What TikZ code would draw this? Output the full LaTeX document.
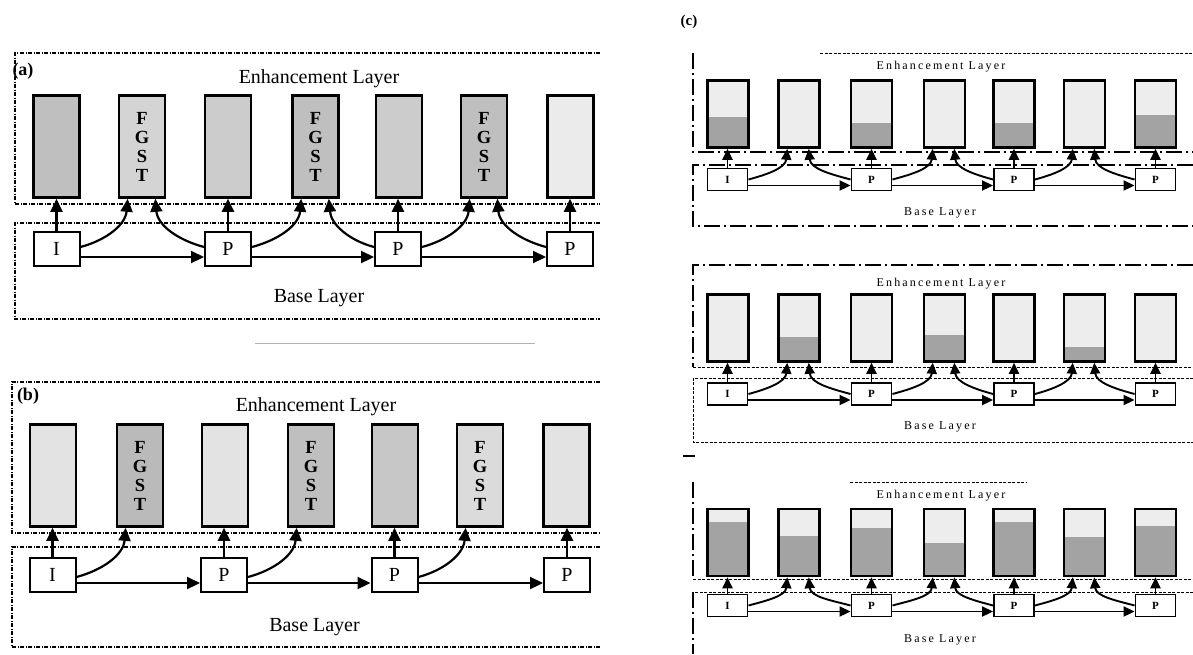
\documentclass[tikz,border=0pt]{standalone}
\usepackage{fontspec}
\setmainfont{Liberation Serif}
\newfontfamily\spacedfont[LetterSpace=18]{Liberation Serif}
\usetikzlibrary{arrows.meta,calc}
\newcommand\fgst{F\\G\\S\\T}
\begin{document}
\begin{tikzpicture}[x=1pt,y=-1pt,
  arect/.style={draw, line width=2.6pt, minimum width=46pt, minimum height=102pt, inner sep=0pt, align=center, font=\fontsize{18.5}{19}\selectfont\bfseries},
  abox/.style={draw, line width=2pt, fill=white, minimum width=46pt, minimum height=34pt, inner sep=0pt, font=\fontsize{20}{22}\selectfont},
  cshade/.style={path picture={\fill[black!36] (path picture bounding box.south west) rectangle ($(path picture bounding box.south east)!#1!(path picture bounding box.north east)$);}},
  crect/.style={draw, line width=2.5pt, fill=black!7, minimum width=41pt, minimum height=67pt, inner sep=0pt, cshade=#1},
  cbox/.style={draw, line width=1.9pt, fill=white, minimum width=40pt, minimum height=22pt, inner sep=0pt, font=\fontsize{11}{12}\selectfont\bfseries},
  arr/.style={line width=2.2pt, -{Triangle[length=13pt,width=12pt]}},
  carr/.style={line width=1.9pt, -{Triangle[length=11pt,width=10pt]}},
  aframe/.style={line width=1.2pt, dash pattern=on 4pt off 1.5pt on 1pt off 1.5pt},
  cthick/.style={line width=1.6pt, dash pattern=on 16pt off 4pt on 2pt off 4pt},
  cthin/.style={line width=0.8pt, dash pattern=on 3pt off 1.5pt},
  ltext/.style={font=\fontsize{20}{22}\selectfont, inner sep=0pt},
  ctext/.style={font=\fontsize{12}{14}\selectfont\spacedfont, inner sep=0pt},
  plabel/.style={font=\fontsize{18}{20}\selectfont\bfseries, inner sep=0pt}
]
\useasboundingbox (0,0) rectangle (1193,654);

% ---------------- panel (a) ----------------
\draw[aframe] (600,53) -- (15,53) -- (15,204) -- (600,204);
\draw[aframe] (600,223) -- (15,223) -- (15,319) -- (600,319);
\node[plabel] (la) at (23,71) {(a)};
\node[ltext] (aEL) at (319,79) {Enhancement Layer};
\node[ltext] (aBL) at (319,298) {Base Layer};
\foreach \x/\f/\t [count=\i] in {56.5/25/{}, 142/17/\fgst, 228/20/{}, 315.5/25/\fgst, 399/20/{}, 484/25/\fgst, 570.5/8/{}}
  \node[arect, fill=black!\f] (a\i) at (\x,146.5) {\t};
\foreach \x/\t [count=\i] in {56.5/I, 228/P, 398/P, 570/P}
  \node[abox] (aB\i) at (\x,248.5) {\t};
\foreach \i in {1,...,4}{
  \pgfmathtruncatemacro\j{2*\i-1}
  \draw[arr] (aB\i.north) -- (aB\i.north |- a\j.south);
}
\foreach \i in {1,2,3}{
  \pgfmathtruncatemacro\j{2*\i}
  \pgfmathtruncatemacro\k{\i+1}
  \draw[arr] ([yshift=1.5pt]aB\i.east) to[out=15,in=-95] ([xshift=10pt]a\j.south west);
  \draw[arr] ([yshift=1.5pt]aB\k.west) to[out=165,in=-85] ([xshift=-11pt]a\j.south east);
  \draw[arr] ([yshift=-8.5pt]aB\i.east) -- ([yshift=-8.5pt]aB\k.west);
}

\draw[black!30, line width=0.8pt] (255,343) -- (535,343);

% ---------------- panel (b) ----------------
\draw[aframe] (600,382) -- (12,382) -- (12,533) -- (600,533);
\draw[aframe] (600,547) -- (12,547) -- (12,647) -- (600,647);
\node[plabel] (lb) at (28,396) {(b)};
\node[ltext] (bEL) at (316,407) {Enhancement Layer};
\node[ltext] (bBL) at (314.5,627) {Base Layer};
\foreach \x/\f/\t [count=\i] in {53/11/{}, 140/27/\fgst, 225/11/{}, 311/25/\fgst, 395/22/{}, 480/14/\fgst, 566.5/11/{}}
  \node[arect, fill=black!\f] (b\i) at (\x,475.5) {\t};
\foreach \x/\t [count=\i] in {52.5/I, 224/P, 394.5/P, 567/P}
  \node[abox] (bB\i) at (\x,574.5) {\t};
\foreach \i in {1,...,4}{
  \pgfmathtruncatemacro\j{2*\i-1}
  \draw[arr] (bB\i.north) -- (bB\i.north |- b\j.south);
}
\foreach \i in {1,2,3}{
  \pgfmathtruncatemacro\j{2*\i}
  \pgfmathtruncatemacro\k{\i+1}
  \draw[arr] ([yshift=-2.5pt]bB\i.east) to[out=15,in=-95] ([xshift=10pt]b\j.south west);
  \draw[arr] ([yshift=-8.5pt]bB\i.east) -- ([yshift=-8.5pt]bB\k.west);
}

% ---------------- panel (c) ----------------
\node[plabel, font=\fontsize{15}{17}\selectfont\bfseries] (lc) at (689,22) {(c)};

% row 1 frames
\draw[cthin] (820,53) -- (1193,53);
\draw[cthick] (693,53) -- (693,152) -- (1193,152);
\draw[cthick] (1193,165) -- (693,165) -- (693,226) -- (1193,226);
% row 2 frames
\draw[cthick] (1193,265) -- (693,265) -- (693,367);
\draw[cthin] (693,367) -- (1193,367);
\draw[cthin] (1193,378) -- (693,378) -- (693,442) -- (1193,442);
\draw[line width=1.5pt] (683,456) -- (695,456);
% row 3 frames
\draw[cthin] (850,482) -- (1027,482);
\draw[cthick] (693,482) -- (693,579);
\draw[cthin] (693,579) -- (1193,579);
\draw[cthin] (1193,592) -- (693,592);
\draw[cthick] (693,592) -- (693,654);

% row texts
\node[ctext] (c1EL) at (941,67) {Enhancement Layer};
\node[ctext] (c1BL) at (940,213) {Base Layer};
\node[ctext] (c2EL) at (941,284) {Enhancement Layer};
\node[ctext] (c2BL) at (940,427) {Base Layer};
\node[ctext] (c3EL) at (941,496) {Enhancement Layer};
\node[ctext] (c3BL) at (940,640) {Base Layer};

% row rects
\foreach \x/\f [count=\i] in {728/0.45, 799/0, 871.5/0.37, 944.5/0, 1014/0.37, 1084.5/0, 1155.5/0.49}
  \node[crect=\f] (c1R\i) at (\x,114) {};
\foreach \x/\f [count=\i] in {728/0, 799/0.36, 871.5/0, 944.5/0.40, 1014/0, 1084.5/0.22, 1155.5/0}
  \node[crect=\f] (c2R\i) at (\x,328) {};
\foreach \x/\f [count=\i] in {728/0.80, 799/0.59, 871.5/0.71, 944.5/0.49, 1014/0.80, 1084.5/0.58, 1155.5/0.74}
  \node[crect=\f] (c3R\i) at (\x,542.5) {};

% row boxes and connectors
\foreach \rw/\by in {1/179.5, 2/394, 3/605.5}{
  \foreach \x/\t [count=\i] in {727.5/I, 871.5/P, 1014/P, 1155.5/P}
    \node[cbox] (c\rw B\i) at (\x,\by) {\t};
  \foreach \i in {1,...,4}{
    \pgfmathtruncatemacro\j{2*\i-1}
    \draw[carr] (c\rw B\i.north) -- (c\rw B\i.north |- c\rw R\j.south);
  }
  \foreach \i in {1,2,3}{
    \pgfmathtruncatemacro\j{2*\i}
    \pgfmathtruncatemacro\k{\i+1}
    \draw[carr] (c\rw B\i.east) to[out=15,in=-95] ([xshift=10pt]c\rw R\j.south west);
    \draw[carr] (c\rw B\k.west) to[out=165,in=-85] ([xshift=-12pt]c\rw R\j.south east);
    \draw[carr] ([yshift=-6pt]c\rw B\i.east) -- ([yshift=-6pt]c\rw B\k.west);
  }
}
\end{tikzpicture}
\end{document}
